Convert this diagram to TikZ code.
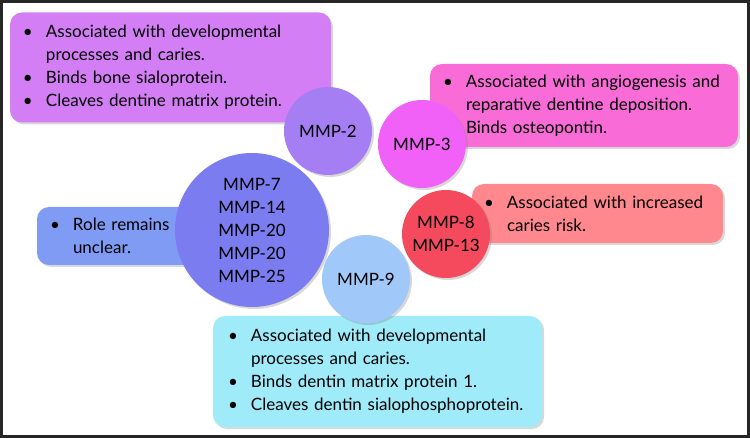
\documentclass[tikz,border=0pt]{standalone}
\usepackage{fontspec}
\setmainfont{Lato}
\usepackage{xcolor}
\usetikzlibrary{shadows}

\definecolor{boxviolet}{HTML}{D47EF6}
\definecolor{boxpink}{HTML}{F96CD8}
\definecolor{boxsalmon}{HTML}{FF888E}
\definecolor{boxblue}{HTML}{809BF4}
\definecolor{boxcyan}{HTML}{9FEBF9}
\definecolor{dotviolet}{HTML}{A47EF2}
\definecolor{dotmagenta}{HTML}{F160F7}
\definecolor{dotred}{HTML}{F54A5E}
\definecolor{dotslate}{HTML}{7B7CF0}
\definecolor{dotsky}{HTML}{A0C8F8}

% bullet with its hanging gap
\newcommand{\blt}{\makebox[23pt][l]{\textbullet}}
\newcommand{\gap}{\hspace*{23pt}}

\begin{document}
\begin{tikzpicture}[x=1pt,y=-1pt,
    infobox/.style={rounded corners=12pt,inner xsep=13pt,inner ysep=0pt,
        align=left,font=\fontsize{17}{23}\selectfont,
        drop shadow={shadow xshift=2pt,shadow yshift=-2pt,opacity=0.3}},
    bubble/.style={circle,inner sep=0pt,minimum size=88pt,align=center,
        font=\fontsize{17}{23}\selectfont,
        drop shadow={shadow xshift=2pt,shadow yshift=-2pt,opacity=0.3}},
]
    % \draw[help lines,step=50] (0,0) grid (750,438);
    \useasboundingbox (0,0) rectangle (750,438);
    \fill[white] (0,0) rectangle (750,438);

    % Boxes
    \node[infobox,fill=boxviolet,minimum width=321pt,minimum height=110pt,
        text width=295pt] (box2) at (170.5,67.5) {%
        \blt Associated with developmental\\
        \gap processes and caries.\\
        \blt Binds bone sialoprotein.\\
        \blt Cleaves dentine matrix protein.};

    \node[infobox,fill=boxpink,minimum width=308pt,minimum height=83pt,
        text width=282pt] (box3) at (584,105.5) {%
        \blt Associated with angiogenesis and\\
        \gap reparative dentine deposition.\\
        \gap Binds osteopontin.};

    \node[infobox,fill=boxsalmon,minimum width=251pt,minimum height=59pt,
        inner xsep=12pt,text width=227pt] (box8) at (597.5,213.5) {%
        \blt Associated with increased\\
        \gap caries risk.};

    \node[infobox,fill=boxblue,minimum width=163pt,minimum height=58pt,
        text width=137pt] (box7) at (118.5,236) {%
        \blt Role remains\\
        \gap unclear.};

    \node[infobox,fill=boxcyan,minimum width=329pt,minimum height=111pt,
        inner xsep=15pt,text width=299pt] (box9) at (377.5,371.5) {%
        \blt Associated with developmental\\
        \gap processes and caries.\\
        \blt Binds dentin matrix protein 1.\\
        \blt Cleaves dentin sialophosphoprotein.};

    % Circles
    \node[bubble,fill=dotviolet] (mmp2) at (328,131) {MMP-2};
    \node[bubble,fill=dotmagenta] (mmp3) at (422,144) {MMP-3};
    \node[bubble,fill=dotred] (mmp8) at (446,234) {MMP-8\\MMP-13};
    \node[bubble,fill=dotslate,minimum size=154pt] (mmp7) at (252,230)
        {MMP-7\\MMP-14\\MMP-20\\MMP-20\\MMP-25};
    \node[bubble,fill=dotsky] (mmp9) at (366,279) {MMP-9};

    % Frame
    \draw[line width=3pt,black!85] (1.5,1.5) rectangle (748.5,436.5);
\end{tikzpicture}
\end{document}
